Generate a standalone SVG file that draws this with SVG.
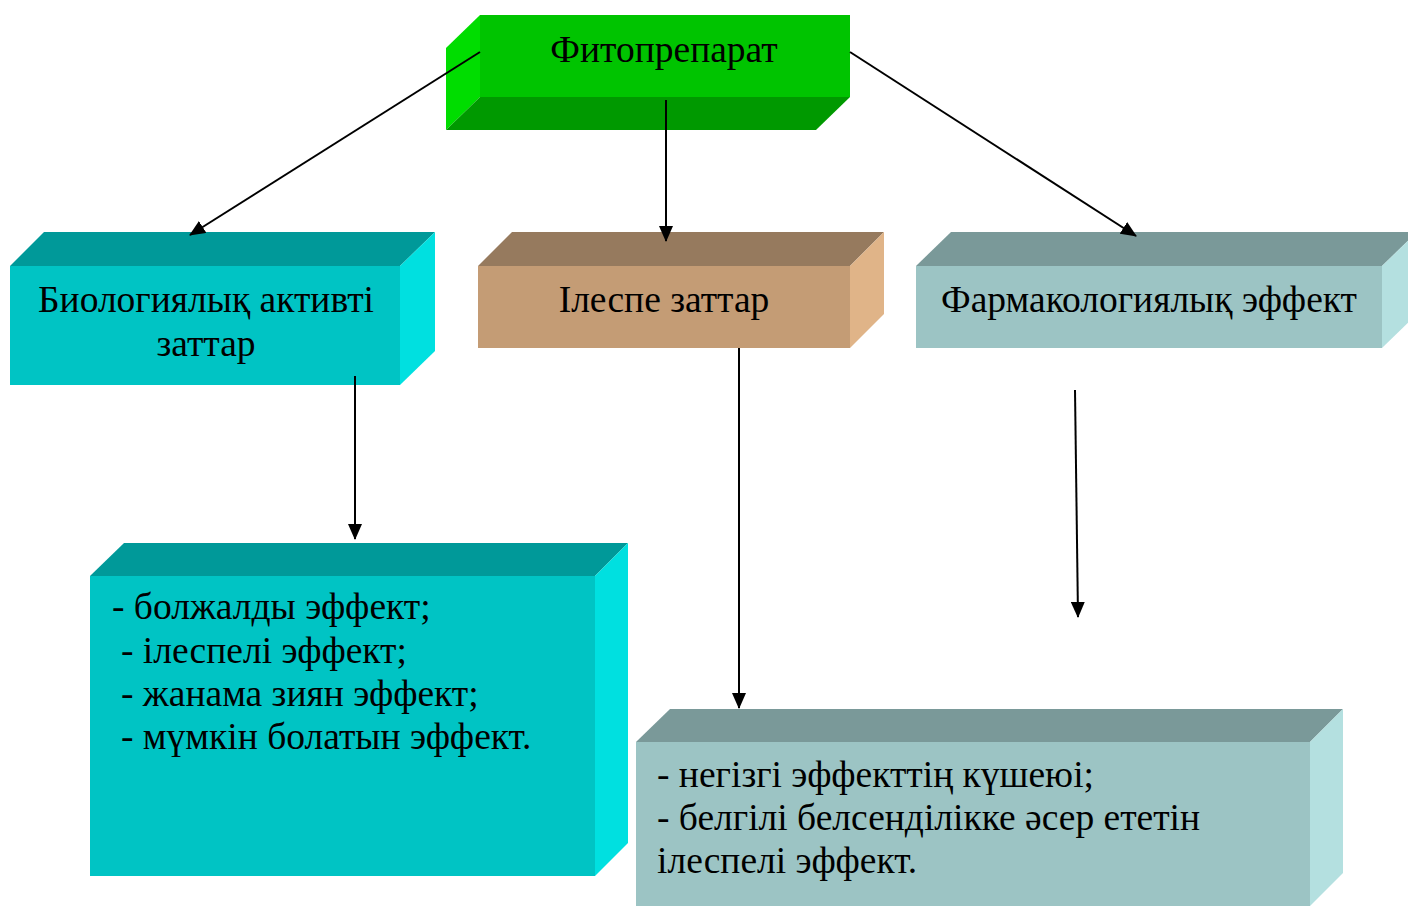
<svg xmlns="http://www.w3.org/2000/svg" width="1408" height="906" viewBox="0 0 1408 906">
<style>
text{font-family:"Liberation Serif","Times New Roman",serif;fill:#000;font-size:37.5px}
.c{text-anchor:middle}
.ln{stroke:#000;stroke-width:2;fill:none;marker-end:url(#ah)}
</style>
<defs>
<marker id="ah" viewBox="0 0 16 14" refX="15" refY="7" markerWidth="16" markerHeight="14" markerUnits="userSpaceOnUse" orient="auto">
<path d="M0,0 L16,7 L0,14 Z" fill="#000"/>
</marker>
</defs>
<rect width="1408" height="906" fill="#fff"/>
<g id="node-fito">
<polygon points="446,48 480,15 480,97 446,130" fill="#00DD00"/>
<polygon points="480,97 850,97 816,130 446,130" fill="#009900"/>
<rect x="480" y="15" width="370" height="82" fill="#00C400"/>
<text class="c" x="664" y="62" font-size="35">Фитопрепарат</text>
</g>
<g id="node-bio">
<polygon points="10,266 44,232 435,232 400,266" fill="#009999"/>
<polygon points="400,266 435,232 435,351 400,385" fill="#00E0E0"/>
<rect x="10" y="266" width="390" height="119" fill="#00C4C4"/>
<text class="c" x="206" y="312">Биологиялық активті</text>
<text class="c" x="206" y="356">заттар</text>
</g>
<g id="node-ilespe">
<polygon points="478,266 512,232 884,232 850,266" fill="#967A5E"/>
<polygon points="850,266 884,232 884,314 850,348" fill="#E0B488"/>
<rect x="478" y="266" width="372" height="82" fill="#C49C75"/>
<text class="c" x="664" y="312">Ілеспе заттар</text>
</g>
<g id="node-farm">
<polygon points="916,266 951,232 1417,232 1382,266" fill="#7A9999"/>
<polygon points="1382,266 1417,232 1417,314 1382,348" fill="#B4E0E0"/>
<rect x="916" y="266" width="466" height="82" fill="#9CC4C4"/>
<text class="c" x="1149" y="312">Фармакологиялық эффект</text>
</g>
<g id="node-list1">
<polygon points="90,576 124,543 628,543 595,576" fill="#009999"/>
<polygon points="595,576 628,543 628,843 595,876" fill="#00E0E0"/>
<rect x="90" y="576" width="505" height="300" fill="#00C4C4"/>
<text x="112" y="619">- болжалды эффект;</text>
<text x="121" y="663">- ілеспелі эффект;</text>
<text x="121" y="706">- жанама зиян эффект;</text>
<text x="121" y="749">- мүмкін болатын эффект.</text>
</g>
<g id="node-list2">
<polygon points="636,742 670,709 1343,709 1310,742" fill="#7A9999"/>
<polygon points="1310,742 1343,709 1343,873 1310,906" fill="#B4E0E0"/>
<rect x="636" y="742" width="674" height="170" fill="#9CC4C4"/>
<text x="657" y="787">- негізгі эффекттің күшеюі;</text>
<text x="657" y="830">- белгілі белсенділікке әсер ететін</text>
<text x="657" y="873">ілеспелі эффект.</text>
</g>
<g id="connectors">
<line class="ln" x1="480" y1="52" x2="190" y2="235"/>
<line class="ln" x1="666" y1="100" x2="666" y2="241"/>
<line class="ln" x1="850" y1="52" x2="1136" y2="236"/>
<line class="ln" x1="355" y1="376" x2="355" y2="539"/>
<line class="ln" x1="739" y1="348" x2="739" y2="708"/>
<line class="ln" x1="1075" y1="390" x2="1078" y2="617"/>
</g>
</svg>
